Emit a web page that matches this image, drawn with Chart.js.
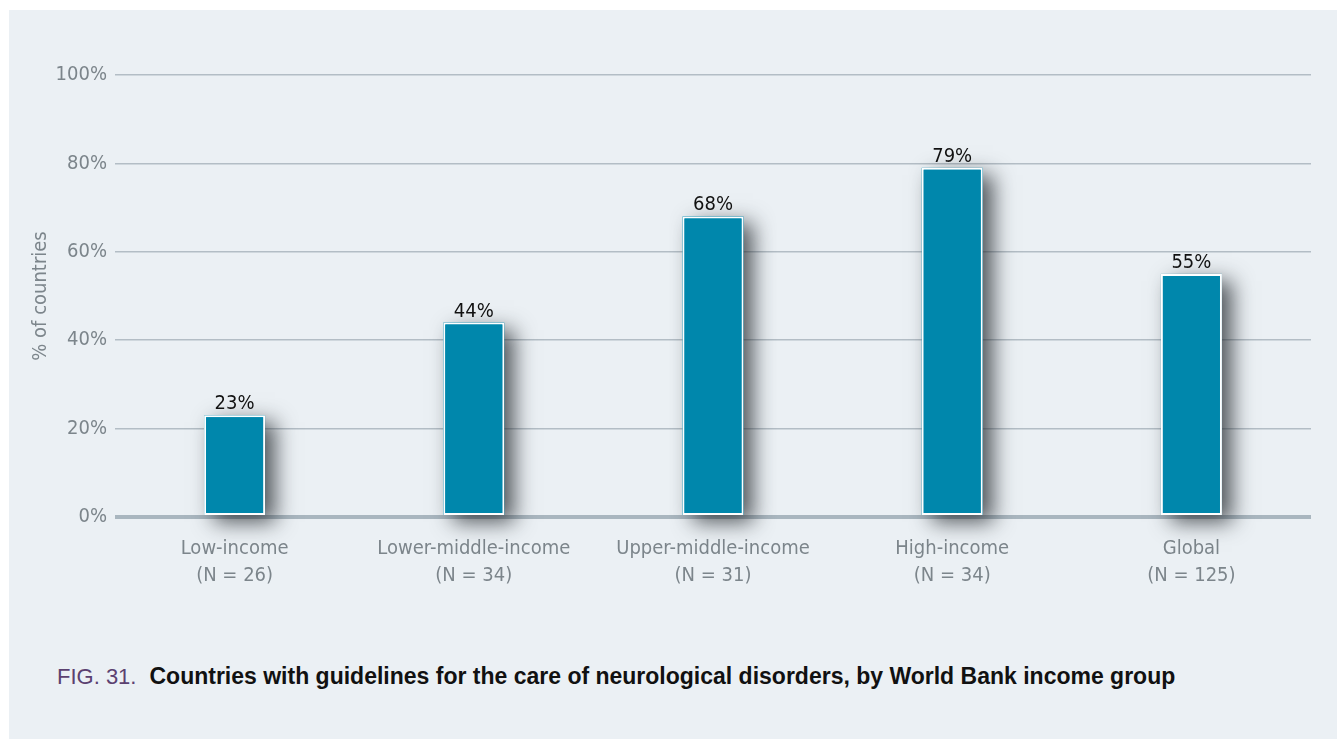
<!DOCTYPE html>
<html>
<head>
<meta charset="utf-8">
<script src="https://cdn.jsdelivr.net/npm/chart.js@4/dist/chart.umd.min.js"></script>
<style>
  html, body { margin: 0; padding: 0; background: #ffffff; }
  #page { position: relative; width: 1337px; height: 739px; overflow: hidden; background: #ffffff; }
  #panel { position: absolute; left: 9px; top: 10px; right: 0; bottom: 0; background: #ebf0f4; }
  #wrap { position: absolute; left: 0; top: 0; width: 1337px; height: 620px; }
  #caption { position: absolute; left: 57px; top: 664px; font-family: 'Liberation Sans', Arial, sans-serif; line-height: 24px; color: #111; white-space: nowrap; }
  #caption .fig { color: #5b4170; font-size: 22px; margin-right: 13px; }
  #caption .txt { font-weight: bold; font-size: 23px; }
</style>
</head>
<body>
<div id="page">
  <div id="panel"></div>
  <div id="wrap"><canvas id="c" width="1337" height="620"></canvas></div>
  <div id="caption"><span class="fig">FIG. 31.</span><span class="txt">Countries with guidelines for the care of neurological disorders, by World Bank income group</span></div>
</div>
<script>
const categories = ['Low-income', 'Lower-middle-income', 'Upper-middle-income', 'High-income', 'Global'];
const sampleSizes = ['(N = 26)', '(N = 34)', '(N = 31)', '(N = 34)', '(N = 125)'];
const values = [23, 44, 68, 79, 55];
const yTicks = [0, 20, 40, 60, 80, 100];

const FONT = "'Liberation Sans Narrow', 'DejaVu Sans Condensed', Arial, sans-serif";
const GREY = '#7c858b';

const shadowPlugin = {
  id: 'barShadow',
  beforeDatasetsDraw(chart) {
    const ctx = chart.ctx;
    const meta = chart.getDatasetMeta(0);
    ctx.save();
    ctx.shadowColor = 'rgba(30,35,40,0.75)';
    ctx.shadowBlur = 20;
    ctx.shadowOffsetX = 10;
    ctx.shadowOffsetY = 7;
    ctx.fillStyle = '#0087ac';
    meta.data.forEach(bar => {
      const w = bar.width;
      ctx.fillRect(bar.x - w / 2, bar.y, w, bar.base - bar.y);
    });
    ctx.restore();
  },
  afterDatasetsDraw(chart) {
    const ctx = chart.ctx;
    const meta = chart.getDatasetMeta(0);
    ctx.save();
    ctx.fillStyle = '#111111';
    ctx.font = "20px " + FONT;
    ctx.textAlign = 'center';
    ctx.textBaseline = 'alphabetic';
    meta.data.forEach((bar, i) => {
      ctx.fillText(values[i] + '%', bar.x, bar.y - 6);
    });
    ctx.restore();
  }
};

new Chart(document.getElementById('c'), {
  type: 'bar',
  data: {
    labels: categories.map((c, i) => [c, sampleSizes[i]]),
    datasets: [{
      data: values,
      backgroundColor: '#0087ac',
      borderColor: '#ffffff',
      borderWidth: 2,
      borderSkipped: false,
      categoryPercentage: 1,
      barPercentage: 0.255
    }]
  },
  options: {
    responsive: false,
    animation: false,
    events: [],
    layout: { padding: { left: 25, right: 26, top: 75, bottom: 0 } },
    plugins: { legend: { display: false }, tooltip: { enabled: false } },
    scales: {
      x: {
        afterFit(s) { s.height = 103; },
        grid: { display: false, drawTicks: false },
        border: { display: false },
        ticks: { color: GREY, padding: 18, font: { family: FONT, size: 20, lineHeight: 1.35 } }
      },
      y: {
        min: 0, max: 100,
        afterFit(s) { s.width = 90; },
        afterBuildTicks(s) { s.ticks = yTicks.map(v => ({ value: v })); },
        border: { display: false },
        grid: {
          drawTicks: false,
          color: ctx => ctx.tick && ctx.tick.value === 0 ? '#a9b6bf' : '#b3bdc5',
          lineWidth: ctx => ctx.tick && ctx.tick.value === 0 ? 4 : 1.5
        },
        ticks: { color: GREY, padding: 8, font: { family: FONT, size: 20 }, callback: v => v + '%' },
        title: { display: true, text: '% of countries', color: GREY, font: { family: FONT, size: 20 }, padding: { top: 4, bottom: 4 } }
      }
    }
  },
  plugins: [shadowPlugin]
});
</script>
</body>
</html>
